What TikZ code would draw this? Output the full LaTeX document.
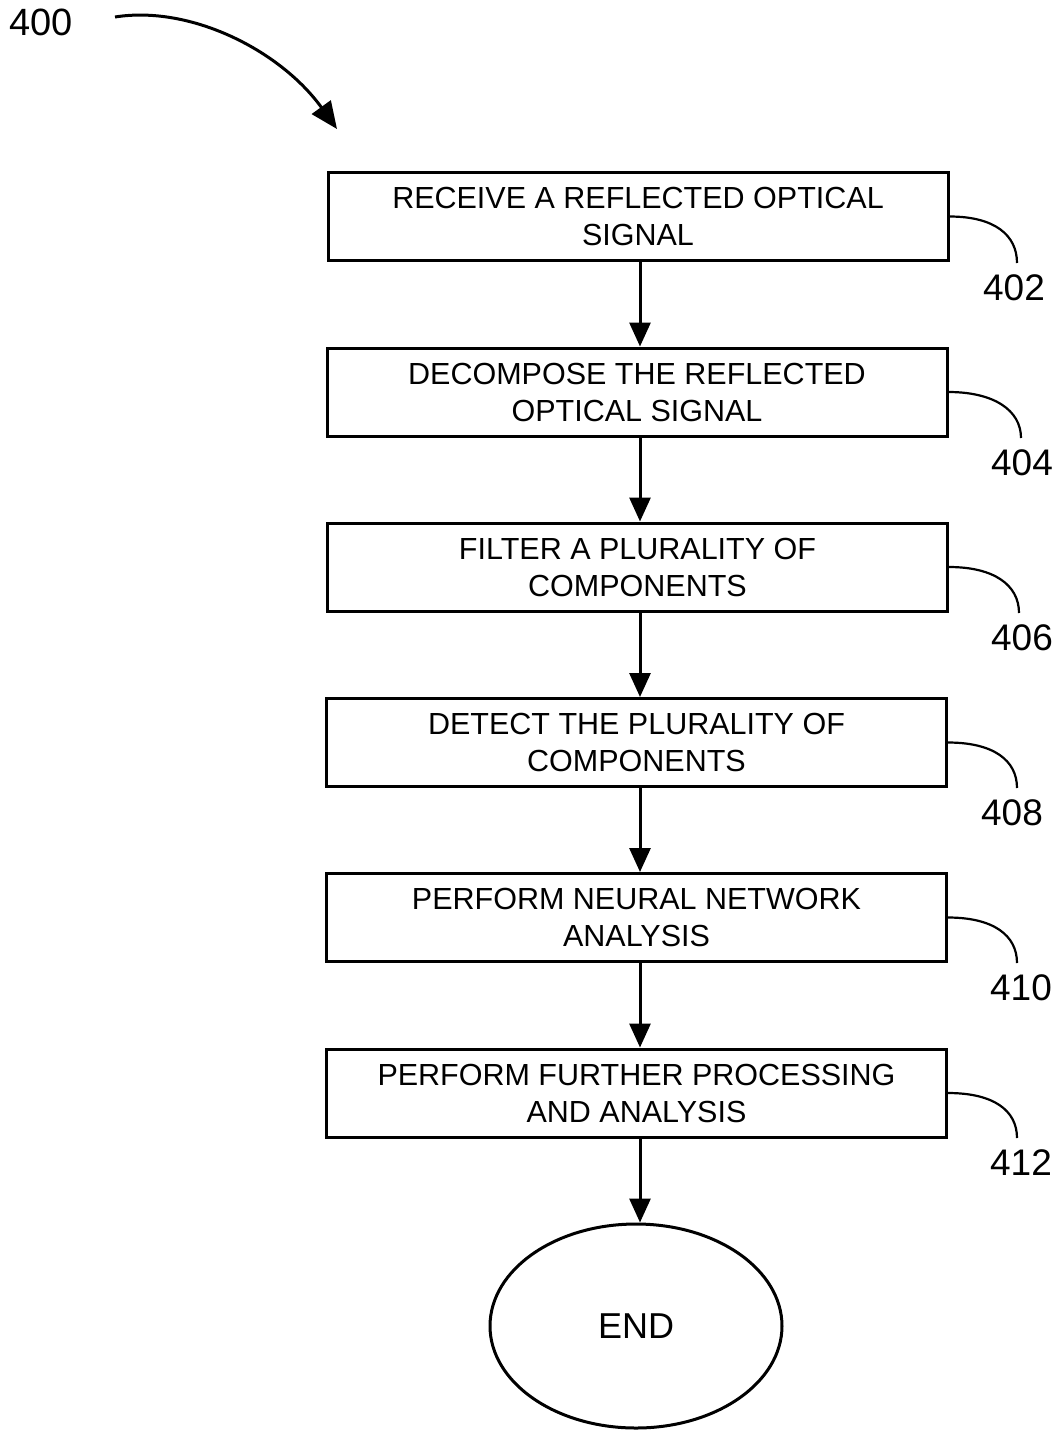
\documentclass[tikz,border=0pt]{standalone}
\usepackage{fontspec}
\setmainfont{Liberation Sans}
\usetikzlibrary{arrows.meta,shapes.geometric}
\tikzset{
  stepbox/.style={draw, line width=3pt, rectangle, minimum width=620pt, minimum height=88pt,
    align=center, inner sep=0pt, font=\fontsize{30.5}{37}\selectfont},
  flow/.style={line width=3pt, -{Triangle[length=24pt,width=21pt]}},
  refnum/.style={font=\fontsize{37}{40}\selectfont, inner sep=2pt},
  leader/.style={line width=2.2pt},
}
\begin{document}
\begin{tikzpicture}[x=1pt,y=-1pt]
\useasboundingbox (0,0) rectangle (1057,1433);

% process steps
\node[stepbox] (b1) at (638,216.5) {RECEIVE A REFLECTED OPTICAL\\SIGNAL};
\node[stepbox] (b2) at (637,392) {DECOMPOSE THE REFLECTED\\OPTICAL SIGNAL};
\node[stepbox] (b3) at (637.5,567) {FILTER A PLURALITY OF\\COMPONENTS};
\node[stepbox] (b4) at (636.5,742.5) {DETECT THE PLURALITY OF\\COMPONENTS};
\node[stepbox] (b5) at (636.5,917.5) {PERFORM NEURAL NETWORK\\ANALYSIS};
\node[stepbox] (b6) at (636.5,1093) {PERFORM FURTHER PROCESSING\\AND ANALYSIS};
\node[draw, ellipse, line width=3pt, minimum width=292pt, minimum height=204pt,
  font=\fontsize{36}{40}\selectfont] (end) at (636,1326) {END};

% flow arrows
\draw[flow] (b1.south -| 640,0) -- (b2.north -| 640,0);
\draw[flow] (b2.south -| 640,0) -- (b3.north -| 640,0);
\draw[flow] (b3.south -| 640,0) -- (b4.north -| 640,0);
\draw[flow] (b4.south -| 640,0) -- (b5.north -| 640,0);
\draw[flow] (b5.south -| 640,0) -- (b6.north -| 640,0);
\draw[flow] (b6.south -| 640,0) -- (end.north -| 640,0);

% reference numerals with leader curves
\node[refnum, anchor=north] (n402) at (1014,272) {402};
\node[refnum, anchor=north] (n404) at (1022,447) {404};
\node[refnum, anchor=north] (n406) at (1022,622) {406};
\node[refnum, anchor=north] (n408) at (1012,797) {408};
\node[refnum, anchor=north] (n410) at (1021,972) {410};
\node[refnum, anchor=north] (n412) at (1021,1147) {412};

\coordinate (e402) at (1017,263);
\coordinate (e404) at (1021,438);
\coordinate (e406) at (1019,613);
\coordinate (e408) at (1017,788);
\coordinate (e410) at (1017,963);
\coordinate (e412) at (1017,1138);

\draw[leader] (b1.east) .. controls +(45,0) and +(0,-28) .. (e402);
\draw[leader] (b2.east) .. controls +(45,0) and +(0,-28) .. (e404);
\draw[leader] (b3.east) .. controls +(45,0) and +(0,-28) .. (e406);
\draw[leader] (b4.east) .. controls +(45,0) and +(0,-28) .. (e408);
\draw[leader] (b5.east) .. controls +(45,0) and +(0,-28) .. (e410);
\draw[leader] (b6.east) .. controls +(45,0) and +(0,-28) .. (e412);

% figure numeral
\node[font=\fontsize{38}{42}\selectfont, inner sep=0pt] (n400) at (41,22) {400};
\coordinate (s400) at (115,17);
\coordinate (t400) at (337,129);
\draw[line width=3pt, -{Triangle[length=27pt,width=23pt]}] (s400) .. controls (190,5) and (280,50) .. (t400);
\end{tikzpicture}
\end{document}
